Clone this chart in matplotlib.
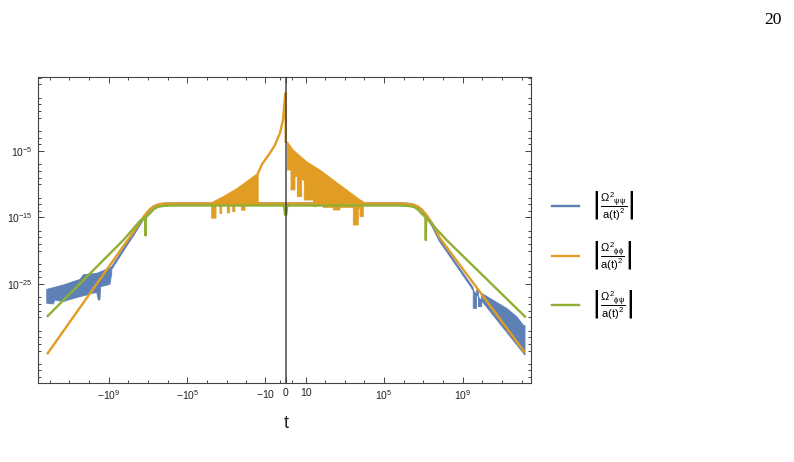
import matplotlib
matplotlib.use('Agg')
import matplotlib.pyplot as plt
import numpy as np
from matplotlib.ticker import FixedLocator, FixedFormatter, NullFormatter

plt.rcParams['font.family'] = ['Liberation Sans', 'DejaVu Sans']
plt.rcParams['mathtext.fontset'] = 'dejavusans'
plt.rcParams['mathtext.default'] = 'regular'

BLUE = '#5E81B5'
ORANGE = '#E19C24'
GREEN = '#8FB032'

# --- data: t values and log10 of the y values ---
# green |Omega^2_phipsi / a^2|
green_t = [-1.23e12, -1.78e8, -2.51e7, -1.38e7, -1.32e7, -1.26e7, -7.94e6, -5.01e6, -3.16e6, -1.58e6, -6.31e5,
           -0.2, -0.07, 0.07, 0.2,
           6.31e5, 1.58e6, 3.16e6, 5.01e6, 7.94e6, 1.26e7, 1.32e7, 1.38e7, 1.51e8, 1.45e12]
green_logy = [-29.8, -18.4, -15.5, -15.0, -17.7, -14.95, -14.4, -13.75, -13.4, -13.25, -13.2,
              -13.2, -14.6, -14.6, -13.2,
              -13.2, -13.25, -13.4, -13.75, -14.4, -14.95, -18.4, -15.05, -18.4, -29.9]

# orange |Omega^2_phiphi / a^2|, smooth part (slopes + plateau)
orange_t = [-1.23e12, -1.2e8, -5.5e7, -2.82e7, -1.58e7, -8.9e6, -5.0e6, -2.5e6, -1.0e6,
            1.0e6, 2.5e6, 5.0e6, 8.9e6, 1.58e7, 2.82e7, 6.9e7, 1.35e12]
orange_logy = [-35.4, -18.6, -17.2, -15.9, -14.8, -13.9, -13.3, -13.0, -12.9,
               -12.9, -13.0, -13.3, -13.9, -14.8, -15.9, -18.1, -35.2]
# orange peak towards t = 0 from the left
peak_t = [-24, -15, -5.3, -2.5, -0.95, -0.37, -0.086, 0.0, 0.0]
peak_logy = [-8.3, -7.0, -5.3, -4.1, -2.3, -0.34, 3.2, 3.7, -3.6]
# orange oscillating band, t < 0
band_l_top_t = [-7080, -1580, -315, -62, -24]
band_l_top_logy = [-12.9, -11.9, -10.7, -9.2, -8.3]
band_l_bot_t = [-24, -116, -116, -173, -173, -379, -379, -490, -490, -725, -725, -933, -933,
                -1780, -1780, -2190, -2190, -3470, -3470, -5750, -5750, -7080]
band_l_bot_logy = [-13.0, -13.1, -13.9, -13.9, -13.2, -13.2, -14.1, -14.1, -13.2, -13.2, -14.3, -14.3, -13.2,
                   -13.2, -14.4, -14.4, -13.2, -13.2, -15.1, -15.1, -13.2, -12.9]
# orange oscillating band, t > 0
band_r_top_t = [0.21, 1.4, 10.5, 54, 262, 1260, 6170, 8810]
band_r_top_logy = [-3.6, -4.85, -6.6, -7.86, -9.36, -10.86, -12.37, -12.6]
band_r_bot_t = [8810, 8810, 5960, 5960, 4900, 4900, 2730, 2730, 574, 574, 262, 262, 80.7, 80.7,
                36.5, 36.5, 24.4, 24.4, 7.8, 7.8, 5.5, 5.5, 2.9, 2.9, 1.97, 1.97, 0.86, 0.86, 0.21]
band_r_bot_logy = [-12.6, -14.87, -14.87, -13.62, -13.62, -16.13, -16.13, -13.47, -13.47, -13.87, -13.87, -13.47, -13.47,
                   -12.87, -12.87, -13.37, -13.37, -12.37, -12.37, -9.36, -9.36, -11.87, -11.87, -8.86, -8.86,
                   -10.86, -10.86, -7.86, -7.86]

# blue |Omega^2_psipsi / a^2|, smooth part
blue_t = [-6.9e8, -1.2e8, -5.5e7, -2.82e7, -1.58e7, -8.9e6, -5.0e6, -2.5e6, -1.0e6,
          1.0e6, 2.5e6, 5.0e6, 8.9e6, 1.58e7, 2.82e7, 6.9e7, 2.82e9]
blue_logy = [-22.6, -19.1, -17.6, -16.2, -15.0, -14.0, -13.35, -13.0, -12.9,
             -12.9, -13.0, -13.35, -14.0, -15.0, -16.2, -18.5, -25.4]
# blue noisy band, t < 0
blue_l_top_t = [-1.38e12, -2.0e11, -2.8e10, -1.9e10, -4.0e9, -8.5e8, -6.9e8]
blue_l_top_logy = [-25.8, -25.15, -24.3, -23.6, -23.4, -22.6, -22.4]
blue_l_bot_t = [-6.9e8, -8.5e8, -2.51e9, -2.75e9, -3.31e9, -3.98e9, -7.24e9, -1.29e10, -2.82e10,
                -1.12e11, -2.0e11, -5.25e11, -6.46e11, -1.38e12]
blue_l_bot_logy = [-23.4, -25.05, -25.4, -27.4, -27.4, -26.3, -26.4, -26.65, -26.9,
                   -27.4, -27.66, -27.4, -28.0, -27.9]
# blue noisy band, t > 0
blue_r_top_t = [2.82e9, 3.39e9, 3.39e9, 5.0e9, 5.0e9, 6.17e9, 6.17e9, 9.1e9, 9.1e9, 2.4e10, 1.7e11, 5.5e11, 1.17e12, 1.45e12]
blue_r_top_logy = [-25.4, -25.6, -28.66, -28.66, -25.9, -26.15, -28.41, -28.41, -26.4, -27.15, -28.66, -29.9, -31.17, -31.3]
blue_r_bot_t = [1.45e12, 2.82e9]
blue_r_bot_logy = [-35.7, -25.65]

x_ticks = [-1e9, -1e5, -10, 0, 10, 1e5, 1e9]
x_tick_labels = ['$-10^{9}$', '$-10^{5}$', '$-10$', '0', '10', '$10^{5}$', '$10^{9}$']
y_ticks = [1e-25, 1e-15, 1e-5]
y_tick_labels = ['$10^{-25}$', '$10^{-15}$', '$10^{-5}$']
legend_labels = [r'$\left|\dfrac{\Omega^{2}{}_{\psi\psi}}{a(t)^{2}}\right|$',
                 r'$\left|\dfrac{\Omega^{2}{}_{\phi\phi}}{a(t)^{2}}\right|$',
                 r'$\left|\dfrac{\Omega^{2}{}_{\phi\psi}}{a(t)^{2}}\right|$']


def fwd(t):
    t = np.asarray(t, dtype=float)
    return np.sign(t) * np.log10(1 + np.abs(t))


def inv(u):
    u = np.asarray(u, dtype=float)
    return np.sign(u) * (10 ** np.abs(u) - 1)


def pw(a):
    return np.power(10.0, np.asarray(a, dtype=float))


fig = plt.figure(figsize=(7.94, 4.62), dpi=100)
ax = fig.add_axes([38.3 / 794, 1 - 382.7 / 462, (530.7 - 38.3) / 794, (382.7 - 77.3) / 462])
ax.set_xscale('function', functions=(fwd, inv))
ax.set_yscale('log')

lw = 1.7
# blue
ax.fill(blue_l_top_t + blue_l_bot_t, pw(blue_l_top_logy + blue_l_bot_logy), color=BLUE, lw=0.6, zorder=2)
ax.fill(blue_r_top_t + blue_r_bot_t, pw(blue_r_top_logy + blue_r_bot_logy), color=BLUE, lw=0.6, zorder=2)
l_blue, = ax.plot(blue_t, pw(blue_logy), color=BLUE, lw=lw, zorder=2, solid_joinstyle='round')
# orange
ax.fill(band_l_top_t + band_l_bot_t, pw(band_l_top_logy + band_l_bot_logy), color=ORANGE, lw=0.6, zorder=3)
ax.fill(band_r_top_t + band_r_bot_t, pw(band_r_top_logy + band_r_bot_logy), color=ORANGE, lw=0.6, zorder=3)
ax.plot(peak_t, pw(peak_logy), color=ORANGE, lw=lw, zorder=3)
l_orange, = ax.plot(orange_t, pw(orange_logy), color=ORANGE, lw=lw, zorder=3, solid_joinstyle='round')
# green
l_green, = ax.plot(green_t, pw(green_logy), color=GREEN, lw=lw, zorder=4, solid_joinstyle='round')

ax.axvline(0, color='#333333', lw=1.3, alpha=0.75, zorder=5)

ax.set_xlim(-3.72e12, 2.82e12)
ax.set_ylim(1.45e-40, 1.2e6)

x_minor = [s * 10.0 ** k for k in range(0, 13) for s in (-1, 1) if k not in (1, 5, 9)]
ax.xaxis.set_major_locator(FixedLocator(x_ticks))
ax.xaxis.set_major_formatter(FixedFormatter(x_tick_labels))
ax.xaxis.set_minor_locator(FixedLocator(x_minor))
ax.xaxis.set_minor_formatter(NullFormatter())

y_minor = [10.0 ** k for k in range(-39, 7) if k % 5 != 4 and k not in (-5, -15, -25)]
ax.yaxis.set_major_locator(FixedLocator(y_ticks))
ax.yaxis.set_major_formatter(FixedFormatter(y_tick_labels))
ax.yaxis.set_minor_locator(FixedLocator(y_minor))
ax.yaxis.set_minor_formatter(NullFormatter())

ax.tick_params(which='both', direction='in', top=True, right=True, colors='#444444',
               labelcolor='#222222', labelsize=7.5, width=0.7)
ax.tick_params(which='major', length=4.5, pad=4)
ax.tick_params(which='minor', length=2.5)
for sp in ax.spines.values():
    sp.set_color('#444444')
    sp.set_linewidth(0.8)

fig.text(286 / 794, 1 - 423 / 462, 't', ha='center', va='center', fontsize=13, color='#222222')

fig.legend(handles=[l_blue, l_orange, l_green], labels=legend_labels, loc='center left',
           bbox_to_anchor=(552 / 794, 1 - 255 / 462), frameon=False, fontsize=8,
           borderpad=0, borderaxespad=0, handlelength=2.4, handletextpad=1.1, labelspacing=1.5)

fig.text(782 / 794, 1 - 20 / 462, '20', ha='right', va='center', fontsize=12.5,
         family=['Liberation Serif', 'DejaVu Serif'])

fig.savefig('out.png', dpi=100)
